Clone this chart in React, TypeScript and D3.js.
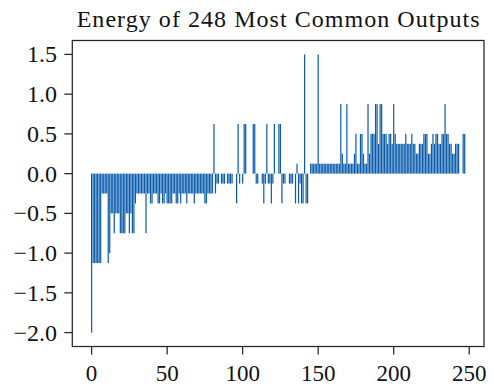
import React from "react";
import * as d3 from "d3";

const TITLE = "Energy of 248 Most Common Outputs";

// Energy of each of the 248 most common outputs (index order)
const energies: number[] = [
  -2.0, -1.125, -1.125, -1.125, -1.125, -1.125, -1.125, -0.25, -0.25, -0.25,
  -0.25, -1.125, -1.0, -0.5, -0.5, -0.75, -0.5, -0.5, -0.5, -0.75,
  -0.75, -0.75, -0.75, -0.5, -0.5, -0.75, -0.5, -0.75, -0.75, -0.375,
  -0.25, -0.25, -0.25, -0.25, -0.25, -0.25, -0.75, -0.25, -0.25, -0.375,
  -0.375, -0.25, -0.25, -0.25, -0.375, -0.375, -0.25, -0.375, -0.375, -0.25,
  -0.375, -0.375, -0.375, -0.375, -0.25, -0.25, -0.375, -0.375, -0.25, -0.375,
  -0.25, -0.25, -0.25, -0.375, -0.25, -0.25, -0.25, -0.25, -0.375, -0.25,
  -0.25, -0.25, -0.25, -0.25, -0.25, -0.375, -0.375, -0.25, -0.25, -0.25,
  -0.25, 0.625, -0.25, -0.125, -0.125, 0, -0.125, -0.125, -0.125, 0,
  -0.125, -0.125, -0.125, -0.125, 0, 0, -0.375, 0.625, -0.125, 0,
  -0.125, 0.625, 0.625, 0, 0, 0, 0, 0.625, 0.625, -0.125,
  -0.125, 0, 0, -0.125, -0.375, -0.125, 0.625, -0.125, -0.125, -0.375,
  -0.125, 0.625, 0, 0, 0.625, 0.625, -0.375, -0.125, -0.125, 0,
  0, -0.125, -0.125, -0.125, 0, -0.375, 0.125, -0.375, -0.125, -0.375,
  -0.375, 1.5, -0.375, -0.375, 0, 0.125, 0.125, 0.125, 0.125, 0.125,
  1.5, 0.125, 0.125, 0.125, 0.125, 0.125, 0.125, 0.125, 0.125, 0.125,
  0.125, 0.125, 0.125, 0.125, 0.125, 0.875, 0.25, 0.125, 0.125, 0.875,
  0.125, 0.125, 0.125, 0.125, 0.25, 0.5, 0.125, 0.125, 0.5, 0.5,
  0.25, 0.125, 0.125, 0.875, 0.25, 0.5, 0.5, 0.5, 0.875, 0.875,
  0.375, 0.875, 0.875, 0.5, 0.5, 0.5, 0.375, 0.5, 0.5, 0.375,
  0.875, 0.5, 0.375, 0.375, 0.375, 0.375, 0.375, 0.375, 0.5, 0.375,
  0.375, 0.375, 0.5, 0.375, 0.375, 0.25, 0.25, 0.375, 0.375, 0.375,
  0.5, 0.5, 0.5, 0.25, 0.25, 0.375, 0.5, 0.375, 0.5, 0.5,
  0.375, 0.375, 0.5, 0.5, 0.875, 0.5, 0.5, 0.375, 0.375, 0.25,
  0.25, 0.375, 0.375, 0.375, 0, 0, 0.5, 0.5,
];

const xTicks = [0, 50, 100, 150, 200, 250];
const yTicks = [-2.0, -1.5, -1.0, -0.5, 0.0, 0.5, 1.0, 1.5];

const W = 492;
const H = 386;
const M = { left: 72.3, right: 484, top: 40.5, bottom: 346.5 };
const BAR_COLOR = "#0a5cad";
const AXIS_COLOR = "#262626";
const FONT = "'Liberation Serif', 'DejaVu Serif', serif";

export default function App() {
  const n = energies.length;
  const bw = 0.8;
  const lo = -bw / 2;
  const hi = n - 1 + bw / 2;
  const xm = (hi - lo) * 0.05;
  const x = d3.scaleLinear().domain([lo - xm, hi + xm]).range([M.left, M.right]);
  const yMin = d3.min(energies)!;
  const yMax = d3.max(energies)!;
  const ym = (yMax - yMin) * 0.05;
  const y = d3.scaleLinear().domain([yMin - ym, yMax + ym]).range([M.bottom, M.top]);
  const fmt = (v: number) => d3.format(".1f")(v).replace("-", "\u2212");
  const tickLen = 8;

  return (
    <svg width={W} height={H} style={{ position: "absolute", left: 0, top: 0, background: "#fff" }}>
      <rect x={0} y={0} width={W} height={H} fill="#fff" />
      <text
        x={(M.left + M.right) / 2}
        y={27}
        textAnchor="middle"
        fontFamily={FONT}
        fontSize={24}
        textLength={403}
        lengthAdjust="spacing"
        fill="#111"
      >
        {TITLE}
      </text>
      <g>
        {energies.map((v, i) => (
          <rect
            key={i}
            x={x(i - bw / 2)}
            width={x(i + bw / 2) - x(i - bw / 2)}
            y={Math.min(y(v), y(0))}
            height={Math.abs(y(v) - y(0))}
            fill={BAR_COLOR}
          />
        ))}
      </g>
      <rect
        x={M.left}
        y={M.top}
        width={M.right - M.left}
        height={M.bottom - M.top}
        fill="none"
        stroke={AXIS_COLOR}
        strokeWidth={1.25}
      />
      <g>
        {xTicks.map((t) => (
          <g key={t}>
            <line x1={x(t)} x2={x(t)} y1={M.bottom} y2={M.bottom + tickLen} stroke={AXIS_COLOR} strokeWidth={1.25} />
            <text x={x(t)} y={381} textAnchor="middle" fontFamily={FONT} fontSize={23} fill="#111">
              {t}
            </text>
          </g>
        ))}
        {yTicks.map((t) => (
          <g key={t}>
            <line x1={M.left - tickLen} x2={M.left} y1={y(t)} y2={y(t)} stroke={AXIS_COLOR} strokeWidth={1.25} />
            <text x={57} y={y(t) + 8} textAnchor="end" fontFamily={FONT} fontSize={24} fill="#111">
              {fmt(t)}
            </text>
          </g>
        ))}
      </g>
    </svg>
  );
}
